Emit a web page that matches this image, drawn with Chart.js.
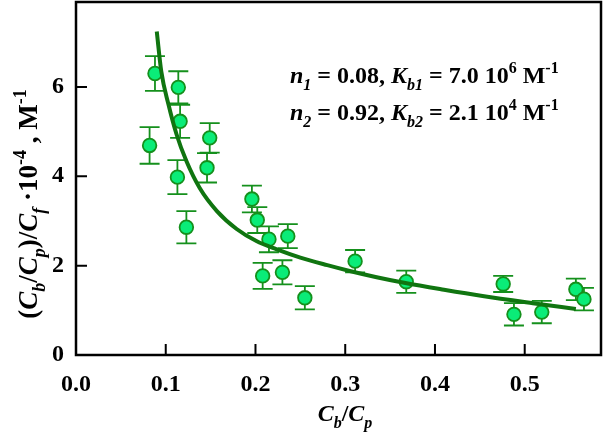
<!DOCTYPE html>
<html>
<head>
<meta charset="UTF-8">
<script src="https://cdn.jsdelivr.net/npm/chart.js"></script>
<style>
  html, body { margin: 0; padding: 0; background: #fff; }
  #wrap { width: 608px; height: 438px; position: relative; }
</style>
</head>
<body>
<div id="wrap"><canvas id="c" width="608" height="438"></canvas></div>
<script>
// measured points (Cb/Cp, (Cb/Cp)/Cf * 1e-4) and their error bars
const ratioX  = [0.082, 0.088, 0.113, 0.114, 0.116, 0.123, 0.146, 0.149, 0.196, 0.202, 0.208,
                 0.215, 0.230, 0.236, 0.255, 0.311, 0.368, 0.476, 0.488, 0.519, 0.557, 0.566];
const bindY   = [4.69, 6.30, 3.98, 5.99, 5.23, 2.86, 4.19, 4.86, 3.49, 3.02, 1.77,
                 2.59, 1.85, 2.66, 1.28, 2.10, 1.64, 1.59, 0.91, 0.96, 1.47, 1.25];
const bindErr = [0.41, 0.39, 0.38, 0.36, 0.37, 0.36, 0.33, 0.33, 0.30, 0.29, 0.29,
                 0.29, 0.27, 0.27, 0.26, 0.25, 0.25, 0.18, 0.25, 0.25, 0.24, 0.25];

// fitted two-site curve
const fitX = [0.090, 0.095, 0.103, 0.112, 0.123, 0.138, 0.157, 0.179, 0.201, 0.223,
              0.250, 0.280, 0.305, 0.335, 0.367, 0.410, 0.453, 0.509, 0.557];
const fitY = [7.24, 6.35, 5.61, 4.94, 4.34, 3.73, 3.22, 2.82, 2.55, 2.37,
              2.18, 2.01, 1.88, 1.74, 1.61, 1.46, 1.32, 1.16, 1.03];

const FONT = '"Liberation Serif", "Times New Roman", serif';
const DARK = '#15901c';

// draws a run of text pieces: [text, italic, pos] pos 0 base, 1 sub, -1 sup
function rich(ctx, parts, size, x, y, draw) {
  let cx = x;
  for (const [txt, it, pos] of parts) {
    const fs = pos ? Math.round(size * 0.68) : size;
    ctx.font = (it ? 'italic ' : '') + 'bold ' + fs + 'px ' + FONT;
    const dy = pos === 1 ? size * 0.3 : pos === -1 ? -size * 0.42 : 0;
    if (draw) ctx.fillText(txt, cx, y + dy);
    cx += ctx.measureText(txt).width;
  }
  return cx - x;
}

const yTitle = [['(',0,0],['C',1,0],['b',1,1],['/',0,0],['C',1,0],['p',1,1],[')/',0,0],
                ['C',1,0],['f',1,1],[' \u00B710',0,0],['-4',0,-1],[' , M',0,0],['-1',0,-1]];
const xTitle = [['C',1,0],['b',1,1],['/',0,0],['C',1,0],['p',1,1]];
const note1 = [['n',1,0],['1',1,1],[' = 0.08, ',0,0],['K',1,0],['b1',1,1],[' = 7.0 10',0,0],['6',0,-1],[' M',0,0],['-1',0,-1]];
const note2 = [['n',1,0],['2',1,1],[' = 0.92, ',0,0],['K',1,0],['b2',1,1],[' = 2.1 10',0,0],['4',0,-1],[' M',0,0],['-1',0,-1]];

const errorBars = {
  id: 'errorBars',
  beforeDatasetsDraw(chart) {
    const { ctx, scales: { x, y } } = chart;
    ctx.save();
    ctx.strokeStyle = DARK;
    ctx.lineWidth = 1.8;
    ratioX.forEach((v, i) => {
      const px = x.getPixelForValue(v);
      const top = y.getPixelForValue(bindY[i] + bindErr[i]);
      const bot = y.getPixelForValue(bindY[i] - bindErr[i]);
      ctx.beginPath();
      ctx.moveTo(px, top); ctx.lineTo(px, bot);
      ctx.moveTo(px - 10, top); ctx.lineTo(px + 10, top);
      ctx.moveTo(px - 10, bot); ctx.lineTo(px + 10, bot);
      ctx.stroke();
    });
    ctx.restore();
  }
};

const frame = {
  id: 'frame',
  afterDraw(chart) {
    const { ctx, chartArea: a, scales: { x, y } } = chart;
    ctx.save();
    ctx.strokeStyle = '#000';
    ctx.lineWidth = 2.5;
    ctx.strokeRect(a.left, a.top, a.right - a.left, a.bottom - a.top);
    ctx.lineWidth = 2;
    ctx.beginPath();
    y.ticks.forEach(t => {
      const py = y.getPixelForValue(t.value);
      ctx.moveTo(a.left, py); ctx.lineTo(a.left + 11, py);
    });
    x.ticks.forEach(t => {
      const px = x.getPixelForValue(t.value);
      ctx.moveTo(px, a.bottom); ctx.lineTo(px, a.bottom - 11);
    });
    ctx.stroke();

    ctx.fillStyle = '#000';
    ctx.textBaseline = 'alphabetic';
    // x title
    const wx = rich(ctx, xTitle, 24, 0, 0, false);
    rich(ctx, xTitle, 24, 345 - wx / 2, 421, true);
    // y title
    ctx.save();
    ctx.translate(37, 204);
    ctx.rotate(-Math.PI / 2);
    const wy = rich(ctx, yTitle, 27, 0, 0, false);
    rich(ctx, yTitle, 27, -wy / 2, 0, true);
    ctx.restore();
    // fit parameters
    rich(ctx, note1, 24, 290, 83, true);
    rich(ctx, note2, 24, 290, 120, true);
    ctx.restore();
  }
};

const tickFont = { family: FONT, size: 24, weight: 'bold' };

new Chart(document.getElementById('c'), {
  type: 'scatter',
  data: {
    datasets: [
      {
        label: 'fit',
        type: 'line',
        data: fitX.map((v, i) => ({ x: v, y: fitY[i] })),
        borderColor: '#107510',
        borderWidth: 4,
        pointRadius: 0,
        fill: false,
        cubicInterpolationMode: 'monotone',
        order: 0
      },
      {
        label: 'data',
        data: ratioX.map((v, i) => ({ x: v, y: bindY[i] })),
        backgroundColor: '#0aec78',
        borderColor: DARK,
        borderWidth: 1.8,
        pointRadius: 6.8,
        order: 1
      }
    ]
  },
  options: {
    responsive: false,
    animation: false,
    devicePixelRatio: 1,
    layout: { autoPadding: false, padding: { top: 2, right: 7, left: 0, bottom: 0 } },
    plugins: { legend: { display: false }, tooltip: { enabled: false } },
    scales: {
      x: {
        type: 'linear', min: 0, max: 0.585,
        afterFit: s => { s.height = 83; s.paddingLeft = 0; s.paddingRight = 0; },
        grid: { display: false, drawTicks: false },
        border: { display: false },
        ticks: { stepSize: 0.1, includeBounds: false, padding: 15, color: '#000', font: tickFont,
                 maxRotation: 0, callback: v => v.toFixed(1) }
      },
      y: {
        min: 0, max: 7.9,
        afterFit: s => { s.width = 76; s.paddingTop = 0; s.paddingBottom = 0; },
        grid: { display: false, drawTicks: false },
        border: { display: false },
        ticks: { stepSize: 2, includeBounds: false, padding: 12, color: '#000', font: tickFont }
      }
    }
  },
  plugins: [errorBars, frame]
});
</script>
</body>
</html>
